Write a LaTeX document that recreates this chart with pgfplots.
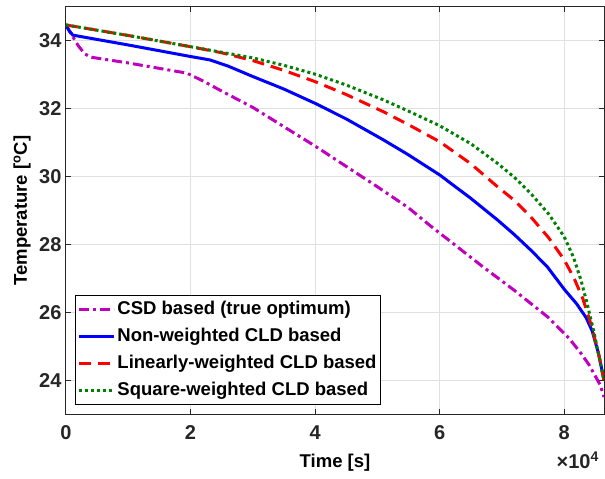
\documentclass[border=0pt]{standalone}
\usepackage{fontspec}
\setmainfont{Liberation Sans}
\usepackage{pgfplots}
\usepackage{pgfplotstable}
\pgfplotsset{compat=1.18}
\definecolor{mag}{rgb}{0.75,0,0.75}
\definecolor{dgreen}{rgb}{0,0.5,0}
\definecolor{axgray}{rgb}{0.15,0.15,0.15}
\newcommand{\fs}{\fontsize{18.5}{22}\selectfont\bfseries}
\newcommand{\ft}{\fontsize{20}{24}\selectfont\bfseries}

\pgfplotstableread{
x y
0 34.47
0.1 34.15
0.2 33.85
0.3 33.62
0.4 33.52
1.0 33.35
1.94 33.05
2.2 32.82
2.5 32.52
3.0 32.04
3.5 31.47
4.0 30.90
4.5 30.30
5.0 29.70
5.5 29.08
5.85 28.55
6.2 28.05
6.66 27.39
7.19 26.66
7.73 25.87
8.08 25.23
8.27 24.79
8.4 24.45
8.5 24.12
8.58 23.85
8.64 23.5
}\csd

\pgfplotstableread{
x y
0 34.47
0.05 34.3
0.11 34.17
1.0 33.88
2.0 33.54
2.31 33.44
2.6 33.26
3.0 32.95
3.5 32.58
4.0 32.16
4.5 31.70
5.1 31.08
5.5 30.64
6.0 30.05
6.5 29.36
6.93 28.72
7.2 28.29
7.46 27.84
7.73 27.34
8.0 26.68
8.2 26.25
8.35 25.85
8.45 25.45
8.55 24.8
8.64 24.0
}\nonw

\pgfplotstableread{
x y
0 34.47
1 34.16
2 33.83
2.5 33.65
3.0 33.42
3.5 33.13
4.0 32.80
4.5 32.42
5.1 31.91
5.5 31.53
6.0 31.03
6.5 30.38
6.93 29.70
7.2 29.30
7.46 28.82
7.75 28.2
8.0 27.55
8.16 27.0
8.3 26.4
8.43 25.65
8.55 24.8
8.64 24.0
}\linw

\pgfplotstableread{
x y
0 34.47
1 34.16
2 33.83
3 33.50
3.5 33.28
4 33.02
4.5 32.70
5.1 32.26
5.5 31.93
6 31.50
6.5 30.97
6.93 30.39
7.2 29.98
7.46 29.51
7.75 28.90
8.0 28.23
8.15 27.62
8.27 26.95
8.37 26.25
8.48 25.4
8.56 24.7
8.64 24.0
}\sqw

\begin{document}
\begin{tikzpicture}
\begin{axis}[
 name=ax,
 scale only axis, width=538pt, height=407pt,
 xmin=0, xmax=8.64, ymin=23, ymax=35,
 xtick={0,2,4,6,8}, ytick={24,26,...,34},
 tick align=inside, major tick length=5.5pt,
 axis line style={axgray, line width=1pt},
 every tick/.style={axgray, line width=1pt},
 grid=major, major grid style={line width=1pt, color=black!12},
 ticklabel style={font=\ft, color=axgray},
 /pgf/number format/assume math mode=true,
 xticklabel style={yshift=-8pt},
 yticklabel style={xshift=-1pt},
 xlabel={Time [s]}, ylabel={Temperature [\textsuperscript{o}C]},
 label style={font=\fs},
 xlabel style={at={(axis description cs:0.5,-0.1204)}, anchor=center},
 ylabel style={at={(axis description cs:-0.0818,0.5)}, anchor=center},
 legend style={at={(axis description cs:0.0167,0.0221)}, anchor=south west,
   font=\fs, draw=black, line width=1pt, inner xsep=2pt, inner ysep=3pt,
   nodes={inner sep=2pt, text height=14pt, text depth=4.5pt}, row sep=4.3pt},
 legend cell align=left,
 legend image code/.code={\draw[#1] (0pt,0pt) -- (35pt,0pt);},
]
\addplot[mag, line width=3pt, dash pattern=on 10pt off 4pt on 3pt off 4pt] table[x=x,y=y]{\csd};
\addlegendentry{CSD based (true optimum)}
\addplot[blue, line width=3pt, solid] table[x=x,y=y]{\nonw};
\addlegendentry{Non-weighted CLD based}
\addplot[red, line width=3pt, dash pattern=on 12pt off 7pt] table[x=x,y=y]{\linw};
\addlegendentry{Linearly-weighted CLD based}
\addplot[dgreen, line width=3pt, dash pattern=on 3pt off 3pt] table[x=x,y=y]{\sqw};
\addlegendentry{Square-weighted CLD based}
\end{axis}
\node[anchor=base east, inner sep=0pt, font=\ft, color=axgray] at (533pt,-55pt) {×10\textsuperscript{4}};
\pgfresetboundingbox
\useasboundingbox (-66pt,-65pt) rectangle (539pt,414pt);
\end{tikzpicture}
\end{document}
